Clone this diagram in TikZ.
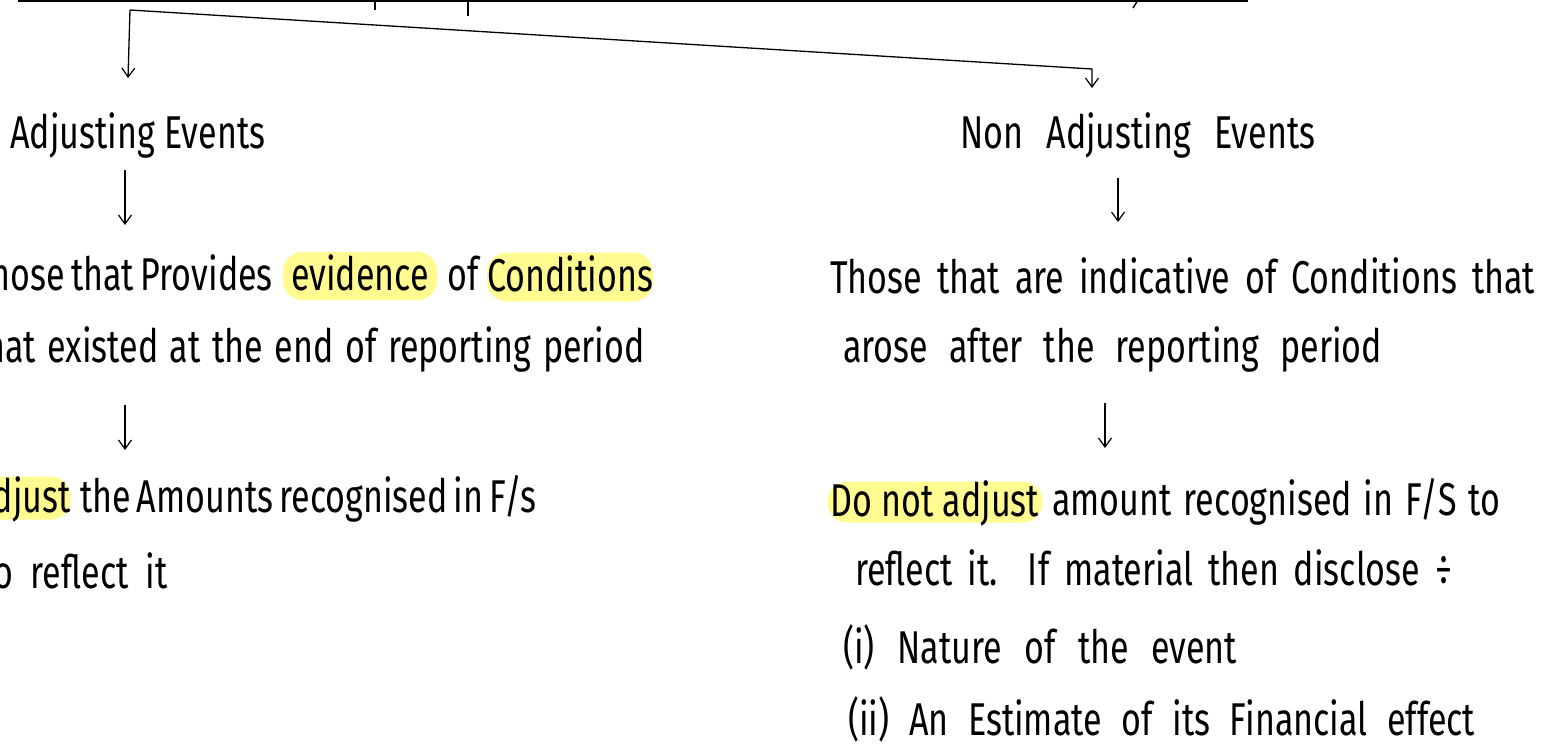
\documentclass[tikz,border=0pt]{standalone}
\usepackage{fontspec}
\setmainfont{Fira Sans}[FakeStretch=0.74]
\usetikzlibrary{arrows.meta}
\definecolor{hl}{RGB}{255,251,145}
\tikzset{
  txt/.style={inner sep=0pt, font=\fontsize{46}{50}\selectfont},
  hlbox/.style={txt, fill=hl, rounded corners=20pt, text height=30pt, text depth=2pt, anchor=base},
  arr/.style={-{Straight Barb[length=9pt,width=13pt,line width=1.2pt]}, line width=1.3pt},
  rule/.style={line width=2pt},
}
% spread a line over a given width
\newcommand\spread[2]{\makebox[#1][s]{#2}}
\begin{document}
\begin{tikzpicture}[x=1pt,y=-1pt]
\useasboundingbox (0,0) rectangle (1549,748);
\clip (0,0) rectangle (1549,748);

% top rule with its hanging strokes
\coordinate (tl) at (18,1);
\coordinate (tr) at (1248,1);
\draw[rule] (tl) -- (tr);
\draw[line width=1.4pt] (375,0) -- (375,10);
\draw[line width=1.4pt] (468,0) -- (468,16);
\draw[line width=1.4pt] (1138,0) -- (1133,8);

% branch to the two kinds of events
\coordinate (split) at (130,10);
\coordinate (lend) at (128,78);
\coordinate (bend) at (1092,69);
\coordinate (rend) at (1092,88);
\draw[arr] (split) -- (lend);
\draw[arr] (split) -- (bend) -- (rend);

% ---------- adjusting events ----------
\node[txt, anchor=base west] (adj) at (10,148) {\spread{255pt}{Adjusting Events}};

\coordinate (la1) at (125,170);
\coordinate (la2) at (125,225);
\draw[arr] (la1) -- (la2);

\node[txt, anchor=base east] (l3a) at (273,290) {\spread{300pt}{Those that Provides}};
\node[hlbox, minimum width=155pt, minimum height=48pt] (ev) at (360,290) {evidence};
\node[txt, anchor=base west] (l3of) at (447,290) {of};
\node[hlbox, minimum width=150pt, minimum height=49pt] (cond) at (570,291) {Conditions};

\node[txt, anchor=base east] (l4) at (645,362) {\spread{672pt}{that existed at the end of reporting period}};

\coordinate (lb1) at (125,405);
\coordinate (lb2) at (125,450);
\draw[arr] (lb1) -- (lb2);

\node[hlbox, minimum width=94pt, minimum height=43pt] (adjw) at (22,512) {Adjust};
\node[txt, anchor=base west] (l5) at (80,512) {\spread{430pt}{the Amounts recognised in F/s}};

\node[txt, anchor=base east] (l6) at (168,588) {\spread{186pt}{to reflect it}};

% ---------- non adjusting events ----------
\node[txt, anchor=base west] (nadj) at (960,148) {\spread{355pt}{Non Adjusting Events}};

\coordinate (ra1) at (1118,178);
\coordinate (ra2) at (1118,222);
\draw[arr] (ra1) -- (ra2);

\node[txt, anchor=base west] (r3) at (830,293) {\spread{705pt}{Those that are indicative of Conditions that}};
\node[txt, anchor=base west] (r4) at (843,362) {\spread{539pt}{arose after the reporting period}};

\coordinate (rb1) at (1105,403);
\coordinate (rb2) at (1105,448);
\draw[arr] (rb1) -- (rb2);

\node[hlbox, minimum width=215pt, minimum height=41pt] (dna) at (935,516) {Do not adjust};
\node[txt, anchor=base west] (r5) at (1052,515) {\spread{448pt}{amount recognised in F/S to}};
\node[txt, anchor=base west] (r6) at (855,585) {\spread{597pt}{reflect it. If material then disclose ÷}};
\node[txt, anchor=base west] (r7) at (843,663) {\spread{394pt}{(i) Nature of the event}};
\node[txt, anchor=base west] (r8) at (848,735) {\spread{627pt}{(ii) An Estimate of its Financial effect}};
\end{tikzpicture}
\end{document}
